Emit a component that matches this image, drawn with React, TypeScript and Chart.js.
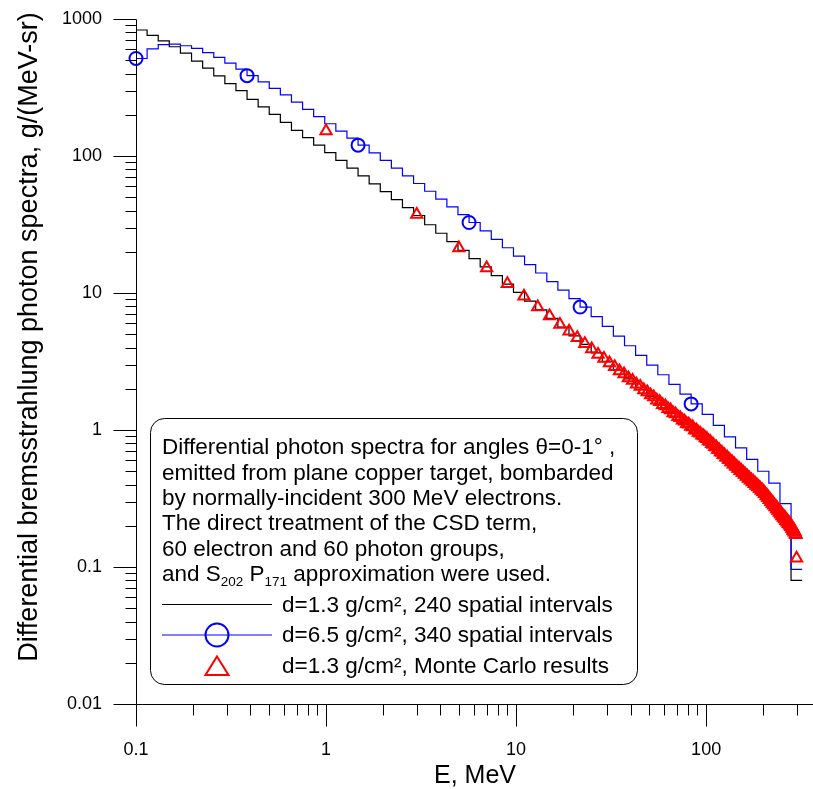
import React, { useEffect, useRef } from 'react';
import { Chart, registerables } from 'chart.js';
Chart.register(...registerables);

const FONT = '"Liberation Sans", Arial, sans-serif';

// photon group boundaries, MeV
const groupEdges = [
  0.1, 0.1144, 0.1309, 0.1497, 0.1713, 0.196, 0.2242, 0.2565, 0.2934, 0.3357,
  0.384, 0.4393, 0.5025, 0.5749, 0.6577, 0.7524, 0.8607, 0.9843, 1.126, 1.288,
  1.474, 1.686, 1.929, 2.207, 2.524, 2.888, 3.303, 3.779, 4.323, 4.945,
  5.657, 6.472, 7.404, 8.47, 9.689, 11.08, 12.68, 14.51, 16.59, 18.98,
  21.72, 24.84, 28.42, 32.51, 37.2, 42.55, 48.68, 55.69, 63.71, 72.88,
  83.37, 95.37, 109.1, 124.8, 142.8, 163.4, 186.9, 213.8, 244.6, 279.8, 320,
];

// d = 1.3 g/cm2, 240 spatial intervals
const thinTarget = [
  831, 760, 692, 627, 563, 493, 438, 384, 337, 300,
  259, 228, 201, 176, 154, 136, 120, 106, 93, 81.5,
  71.5, 62.5, 55, 48, 42, 36.8, 31.5, 27.3, 23.7, 20.5,
  17.8, 15.5, 13.4, 11.6, 10.1, 8.71, 7.54, 6.52, 5.64, 4.87,
  4.21, 3.65, 3.15, 2.73, 2.36, 2.04, 1.76, 1.52, 1.32, 1.14,
  0.986, 0.849, 0.713, 0.599, 0.503, 0.423, 0.355, 0.281, 0.223, 0.08, 0.08,
];

// d = 6.5 g/cm2, 340 spatial intervals
const thickTarget = [
  515, 605, 650, 656, 638, 611, 569, 525, 476, 430,
  386, 348, 312, 279, 247, 219, 194, 172, 152, 135,
  120, 105.5, 93, 81.5, 71.5, 63, 55.3, 48.5, 42.5, 37.3,
  32.7, 28.4, 24.6, 21.4, 18.6, 16.1, 14, 12.1, 10.5, 9.1,
  7.9, 6.72, 5.71, 4.85, 4.12, 3.5, 2.98, 2.53, 2.15, 1.83,
  1.55, 1.3, 1.08, 0.89, 0.74, 0.61, 0.5, 0.41, 0.29, 0.096, 0.096,
];

// Monte Carlo results, d = 1.3 g/cm2
const mcEnergy = [
  1, 3, 5, 7, 9, 11, 13, 15, 17, 19,
  21, 23, 25, 27, 29, 31, 33, 35, 37, 39,
  41, 43, 45, 47, 49, 51, 53, 55, 57, 59,
  61, 63, 65, 67, 69, 71, 73, 75, 77, 79,
  81, 83, 85, 87, 89, 91, 93, 95, 97, 99,
  101, 103, 105, 107, 109, 111, 113, 115, 117, 119,
  121, 123, 125, 127, 129, 131, 133, 135, 137, 139,
  141, 143, 145, 147, 149, 151, 153, 155, 157, 159,
  161, 163, 165, 167, 169, 171, 173, 175, 177, 179,
  181, 183, 185, 187, 189, 191, 193, 195, 197, 199,
  201, 203, 205, 207, 209, 211, 213, 215, 217, 219,
  221, 223, 225, 227, 229, 231, 233, 235, 237, 239,
  241, 243, 245, 247, 249, 251, 253, 255, 257, 259,
  261, 263, 265, 267, 269, 271, 273, 275, 277, 279,
  281, 283, 285, 287, 289, 291, 293, 295, 297, 299,
];
const mcValue = [
  152, 37.4, 21.3, 15.2, 11.7, 9.45, 7.9, 6.8, 5.9, 5.25,
  4.72, 4.26, 3.9, 3.56, 3.33, 3.08, 2.9, 2.7, 2.56, 2.4,
  2.3, 2.16, 2.08, 1.96, 1.89, 1.8, 1.74, 1.65, 1.61, 1.53,
  1.5, 1.43, 1.4, 1.33, 1.31, 1.25, 1.23, 1.18, 1.16, 1.11,
  1.1, 1.06, 1.05, 1.0, 0.995, 0.96, 0.948, 0.915, 0.905, 0.875,
  0.865, 0.832, 0.824, 0.792, 0.785, 0.755, 0.75, 0.72, 0.718, 0.69,
  0.686, 0.66, 0.658, 0.633, 0.632, 0.608, 0.607, 0.585, 0.584, 0.563,
  0.563, 0.543, 0.542, 0.524, 0.523, 0.505, 0.506, 0.489, 0.489, 0.473,
  0.474, 0.457, 0.459, 0.443, 0.445, 0.43, 0.432, 0.417, 0.42, 0.405,
  0.408, 0.394, 0.396, 0.383, 0.385, 0.372, 0.374, 0.362, 0.365, 0.353,
  0.355, 0.342, 0.343, 0.33, 0.332, 0.32, 0.321, 0.31, 0.311, 0.3,
  0.302, 0.291, 0.292, 0.282, 0.284, 0.274, 0.275, 0.265, 0.268, 0.258,
  0.26, 0.25, 0.253, 0.243, 0.246, 0.236, 0.239, 0.23, 0.233, 0.224,
  0.227, 0.218, 0.221, 0.212, 0.215, 0.207, 0.21, 0.202, 0.205, 0.197,
  0.199, 0.19, 0.193, 0.184, 0.187, 0.179, 0.181, 0.174, 0.172, 0.116,
];

const xLabelTicks = [0.1, 1, 10, 100];
const xMinorTicks = [
  0.2, 0.3, 0.4, 0.5, 0.6, 0.7, 0.8, 0.9,
  2, 3, 4, 5, 6, 7, 8, 9,
  20, 30, 40, 50, 60, 70, 80, 90,
  200, 300,
];
const yLabelTicks = [0.01, 0.1, 1, 10, 100, 1000];
const yMinorTicks = [
  0.02, 0.03, 0.04, 0.05, 0.06, 0.07, 0.08, 0.09,
  0.2, 0.3, 0.4, 0.5, 0.6, 0.7, 0.8, 0.9,
  2, 3, 4, 5, 6, 7, 8, 9,
  20, 30, 40, 50, 60, 70, 80, 90,
  200, 300, 400, 500, 600, 700, 800, 900,
];

const xTitle = 'E, MeV';
const yTitle = 'Differential bremsstrahlung photon spectra, g/(MeV-sr)';
const noteLines = [
  'Differential photon spectra for angles \u03b8=0-1\u00b0 ,',
  'emitted from plane copper target, bombarded',
  'by normally-incident 300 MeV electrons.',
  'The direct treatment of the CSD term,',
  '60 electron and 60 photon groups,',
];
const seriesLabels = [
  'd=1.3 g/cm\u00b2, 240 spatial intervals',
  'd=6.5 g/cm\u00b2, 340 spatial intervals',
  'd=1.3 g/cm\u00b2, Monte Carlo results',
];

const decorations = {
  id: 'decorations',
  afterDraw(chart: any) {
    const { ctx } = chart;
    const xs = chart.scales.x;
    const ys = chart.scales.y;
    const px = (v: number) => Math.round(xs.getPixelForValue(v)) + 0.5;
    const py = (v: number) => Math.round(ys.getPixelForValue(v)) + 0.5;
    ctx.save();
    ctx.strokeStyle = '#000';
    ctx.lineWidth = 1;
    const axX = px(0.1);
    const axY = py(0.01);
    ctx.beginPath();
    ctx.moveTo(axX, py(1000));
    ctx.lineTo(axX, axY);
    ctx.moveTo(axX, axY);
    ctx.lineTo(chart.width, axY);
    for (const v of yLabelTicks) { ctx.moveTo(axX - 23, py(v)); ctx.lineTo(axX, py(v)); }
    for (const v of yMinorTicks) { ctx.moveTo(axX - 11, py(v)); ctx.lineTo(axX, py(v)); }
    for (const v of xLabelTicks) { ctx.moveTo(px(v), axY); ctx.lineTo(px(v), axY + 22); }
    for (const v of xMinorTicks) { ctx.moveTo(px(v), axY); ctx.lineTo(px(v), axY + 11); }
    ctx.stroke();

    // axis titles
    ctx.fillStyle = '#000';
    ctx.textBaseline = 'alphabetic';
    ctx.textAlign = 'center';
    ctx.font = `25px ${FONT}`;
    ctx.fillText(xTitle, 475, 783);
    ctx.save();
    ctx.translate(37, 337);
    ctx.rotate(-Math.PI / 2);
    ctx.font = `27px ${FONT}`;
    ctx.fillText(yTitle, 0, 0);
    ctx.restore();

    // note / legend box
    ctx.beginPath();
    ctx.roundRect(150.5, 418.5, 487, 266, 14);
    ctx.fillStyle = '#fff';
    ctx.fill();
    ctx.strokeStyle = '#000';
    ctx.lineWidth = 1;
    ctx.stroke();

    const main = `22.5px ${FONT}`;
    const small = `13.5px ${FONT}`;
    ctx.fillStyle = '#000';
    ctx.textAlign = 'left';
    ctx.font = main;
    const tx = 162;
    const baselines = [454, 479.5, 504.5, 530, 555.5];
    noteLines.forEach((t, i) => ctx.fillText(t, tx, baselines[i]));
    // line with subscripts
    let x = tx;
    const b6 = 580.5;
    const put = (t: string, f: string, dy: number) => {
      ctx.font = f;
      ctx.fillText(t, x, b6 + dy);
      x += ctx.measureText(t).width;
    };
    put('and S', main, 0);
    put('202', small, 5);
    put(' P', main, 0);
    put('171', small, 5);
    put(' approximation were used.', main, 0);

    // legend rows
    const lx = 282;
    const rows = [604.5, 635, 666];
    ctx.font = main;
    seriesLabels.forEach((t, i) => ctx.fillText(t, lx, rows[i] + 7));
    ctx.lineWidth = 1.2;
    ctx.strokeStyle = '#000';
    ctx.beginPath();
    ctx.moveTo(162, rows[0]);
    ctx.lineTo(272, rows[0]);
    ctx.stroke();
    ctx.strokeStyle = '#0000ff';
    ctx.beginPath();
    ctx.moveTo(162, rows[1]);
    ctx.lineTo(272, rows[1]);
    ctx.stroke();
    ctx.lineWidth = 2;
    ctx.beginPath();
    ctx.arc(217, rows[1], 11.5, 0, Math.PI * 2);
    ctx.stroke();
    ctx.strokeStyle = '#ff0000';
    ctx.beginPath();
    ctx.moveTo(217, rows[2] - 9.5);
    ctx.lineTo(228.5, rows[2] + 9);
    ctx.lineTo(205.5, rows[2] + 9);
    ctx.closePath();
    ctx.stroke();
    ctx.restore();
  },
};

export default function App() {
  const ref = useRef<HTMLCanvasElement>(null);
  useEffect(() => {
    const tickFont = { family: FONT, size: 18 };
    const chart = new Chart(ref.current as HTMLCanvasElement, {
      type: 'line',
      data: {
        datasets: [
          {
            label: seriesLabels[2],
            data: mcEnergy.map((e, i) => ({ x: e, y: mcValue[i] })),
            showLine: false,
            pointStyle: 'triangle',
            pointRadius: 6.5,
            pointBorderWidth: 2,
            pointBorderColor: '#ff0000',
            pointBackgroundColor: 'rgba(0,0,0,0)',
            borderColor: '#ff0000',
            clip: false,
          } as any,
          {
            label: seriesLabels[1],
            data: groupEdges.map((e, i) => ({ x: e, y: thickTarget[i] })),
            stepped: true,
            borderColor: '#0000ff',
            borderWidth: 1.2,
            pointStyle: 'circle',
            pointRadius: groupEdges.map((_, i) => (i % 10 === 0 && i <= 50 ? 6.5 : 0)),
            pointBorderWidth: 2,
            pointBorderColor: '#0000ff',
            pointBackgroundColor: 'rgba(0,0,0,0)',
            clip: false,
          } as any,
          {
            label: seriesLabels[0],
            data: groupEdges.map((e, i) => ({ x: e, y: thinTarget[i] })),
            stepped: true,
            borderColor: '#000000',
            borderWidth: 1.2,
            pointRadius: 0,
            clip: false,
          } as any,
        ],
      },
      options: {
        responsive: false,
        animation: false,
        devicePixelRatio: 1,
        events: [],
        layout: { autoPadding: false, padding: { top: 19, left: 0, right: 0, bottom: 0 } },
        plugins: { legend: { display: false }, tooltip: { enabled: false } },
        scales: {
          x: {
            type: 'logarithmic',
            position: 'bottom',
            min: 0.1,
            max: 365,
            grid: { display: false, drawTicks: true, tickLength: 35 },
            border: { display: false },
            afterFit: (s: any) => { s.height = 85; },
            afterBuildTicks: (s: any) => { s.ticks = xLabelTicks.map((v) => ({ value: v })); },
            ticks: {
              autoSkip: false,
              maxRotation: 0,
              padding: 0,
              color: '#000',
              font: tickFont,
              callback: (v: any) => String(v),
            },
          },
          y: {
            type: 'logarithmic',
            position: 'left',
            min: 0.01,
            max: 1000,
            grid: { display: false, drawTicks: true, tickLength: 34 },
            border: { display: false },
            afterFit: (s: any) => { s.width = 136; },
            afterBuildTicks: (s: any) => { s.ticks = yLabelTicks.map((v) => ({ value: v })); },
            ticks: {
              autoSkip: false,
              padding: 0,
              color: '#000',
              font: tickFont,
              callback: (v: any) => String(v),
            },
          },
        },
      } as any,
      plugins: [decorations],
    });
    return () => chart.destroy();
  }, []);
  return (
    <div style={{ position: 'absolute', left: 0, top: 0, width: 813, height: 789, background: '#fff' }}>
      <canvas ref={ref} width={813} height={789} style={{ display: 'block' }} />
    </div>
  );
}
